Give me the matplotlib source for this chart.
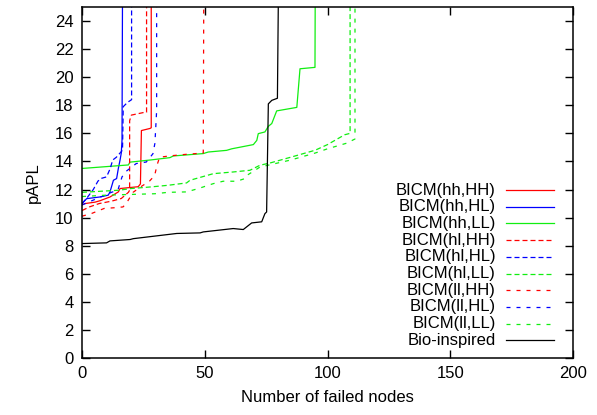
import matplotlib
matplotlib.use('Agg')
import matplotlib.pyplot as plt
from matplotlib.lines import Line2D

plt.rcParams['font.family'] = ['Liberation Sans', 'DejaVu Sans']

# number of failed nodes / pAPL for each strategy
hh_HH_x = [0, 1.2, 5.3, 7.3, 11.4, 14.8, 15.5, 22.9, 23.8, 24.2, 27.7, 28.2, 28.2]
hh_HH_y = [10.9, 11.0, 11.1, 11.2, 11.47, 11.83, 12.07, 12.2, 12.4, 16.2, 16.35, 16.4, 26]

hh_HL_x = [0, 1.9, 7.3, 10.7, 11.4, 12.8, 14.1, 14.8, 15.5, 16.0, 16.3, 16.5]
hh_HL_y = [11.0, 11.35, 11.47, 11.6, 11.83, 12.66, 12.78, 13.5, 14.1, 14.6, 15.5, 26]

hh_LL_x = [0, 18.9, 19.5, 27.7, 35.8, 37.2, 49.4, 51.4, 58.9, 61, 69.8, 71.2, 71.8,
           74.5, 75.9, 77.3, 79.3, 87.5, 88.8, 94.9, 95.0]
hh_LL_y = [13.5, 13.75, 13.95, 14.1, 14.27, 14.39, 14.56, 14.67, 14.79, 14.9, 15.2, 15.5, 15.98,
           16.1, 16.5, 16.7, 17.6, 17.85, 20.6, 20.7, 26]

hl_HH_x = [0, 3, 7, 12, 16, 18.9, 19.4, 19.4, 20.1, 25.5, 26.3, 26.3]
hl_HH_y = [10.5, 10.76, 11.0, 11.17, 11.36, 11.8, 11.95, 16.9, 17.3, 17.5, 17.5, 26]

hl_HL_x = [0, 2, 4.6, 6.5, 8, 10, 11.5, 12.5, 14, 15, 16.5, 16.8, 18.5, 20.2, 20.2]
hl_HL_y = [11.0, 11.4, 12.0, 12.6, 12.8, 12.9, 13.5, 14.1, 14.3, 14.5, 14.8, 17.9, 18.2, 18.4, 26]

hl_LL_x = [0, 10, 15, 20, 27.7, 35, 42.6, 44, 53.5, 61.6, 68.4, 72.5, 76.6,
           85, 95, 100, 107, 109.2, 109.2]
hl_LL_y = [11.8, 11.9, 11.95, 12.07, 12.18, 12.3, 12.47, 12.66, 13.13, 13.25, 13.37, 13.73, 13.89,
           14.3, 14.8, 15.2, 15.9, 16.0, 26]

ll_HH_x = [0, 4, 9, 13, 16.7, 18, 20.8, 24, 27.5, 29.6, 30.5, 31.6, 36, 42, 49.4, 49.6]
ll_HH_y = [10.1, 10.3, 10.65, 10.7, 10.76, 11.0, 11.8, 12.2, 12.6, 13.0, 13.7, 14.3, 14.4, 14.5, 14.6, 26]

ll_HL_x = [0, 4, 8, 12, 14.6, 16.3, 18, 22.1, 26.2, 28.9, 29.7, 30.4, 30.4]
ll_HL_y = [10.9, 11.2, 11.5, 11.8, 11.95, 12.9, 13.3, 13.85, 13.96, 14.55, 15.3, 17.6, 26]

ll_LL_x = [0, 10, 20, 29.7, 35, 42.6, 47.4, 53.5, 57.5, 63, 66.4, 67.1, 72.5,
           85, 95, 100, 107.8, 111.2, 111.2]
ll_LL_y = [11.5, 11.6, 11.65, 11.7, 11.8, 11.83, 12.07, 12.42, 12.59, 12.59, 12.78, 13.0, 13.6,
           14.1, 14.6, 14.9, 15.3, 15.6, 26]

bio_x = [0, 10, 11.4, 19.6, 20.9, 38.6, 48.1, 49.4, 61.6, 65.7, 69.1, 73.2, 74.5, 75.2,
         75.9, 77.3, 79.6, 80.0]
bio_y = [8.15, 8.2, 8.34, 8.44, 8.5, 8.87, 8.91, 8.98, 9.22, 9.15, 9.62, 9.7, 10.28, 10.4,
         18.1, 18.35, 18.5, 26]

long_dash = (4, 2.4)
short_dash = (3.2, 4.8)

series = [
    ('BICM(hh,HH)', hh_HH_x, hh_HH_y, '#ff0000', None),
    ('BICM(hh,HL)', hh_HL_x, hh_HL_y, '#0000ff', None),
    ('BICM(hh,LL)', hh_LL_x, hh_LL_y, '#11ee11', None),
    ('BICM(hl,HH)', hl_HH_x, hl_HH_y, '#ff0000', long_dash),
    ('BICM(hl,HL)', hl_HL_x, hl_HL_y, '#0000ff', long_dash),
    ('BICM(hl,LL)', hl_LL_x, hl_LL_y, '#11ee11', long_dash),
    ('BICM(ll,HH)', ll_HH_x, ll_HH_y, '#ff0000', short_dash),
    ('BICM(ll,HL)', ll_HL_x, ll_HL_y, '#0000ff', short_dash),
    ('BICM(ll,LL)', ll_LL_x, ll_LL_y, '#11ee11', short_dash),
    ('Bio-inspired', bio_x, bio_y, '#000000', None),
]

fig = plt.figure(figsize=(5.97, 4.15), dpi=100)
ax = fig.add_axes([82 / 597, 57 / 415, 491 / 597, 351 / 415])

for i, (name, xs, ys, col, dash) in enumerate(series):
    line, = ax.plot(xs, ys, color=col, lw=0.9)
    if dash:
        line.set_dashes(dash)
    # gnuplot style key: label right-aligned, sample on the right
    yk = 0.4786 - i * 0.0476
    ax.text(0.843, yk, name, transform=ax.transAxes, ha='right', va='center', fontsize=12)
    sample = Line2D([0.8635, 0.961], [yk, yk], transform=ax.transAxes, color=col, lw=0.9)
    if dash:
        sample.set_dashes(dash)
    ax.add_line(sample)

ax.set_xlim(0, 200)
ax.set_ylim(0, 25)
ax.set_xticks(range(0, 201, 50))
ax.set_yticks(range(0, 25, 2))
ax.tick_params(direction='in', top=True, right=True, length=6, width=1, labelsize=12, pad=6)
for s in ax.spines.values():
    s.set_linewidth(1.1)
ax.set_xlabel('Number of failed nodes', fontsize=12, labelpad=6)
ax.set_ylabel('pAPL', fontsize=12, labelpad=10)

fig.savefig('out.png', dpi=100)
